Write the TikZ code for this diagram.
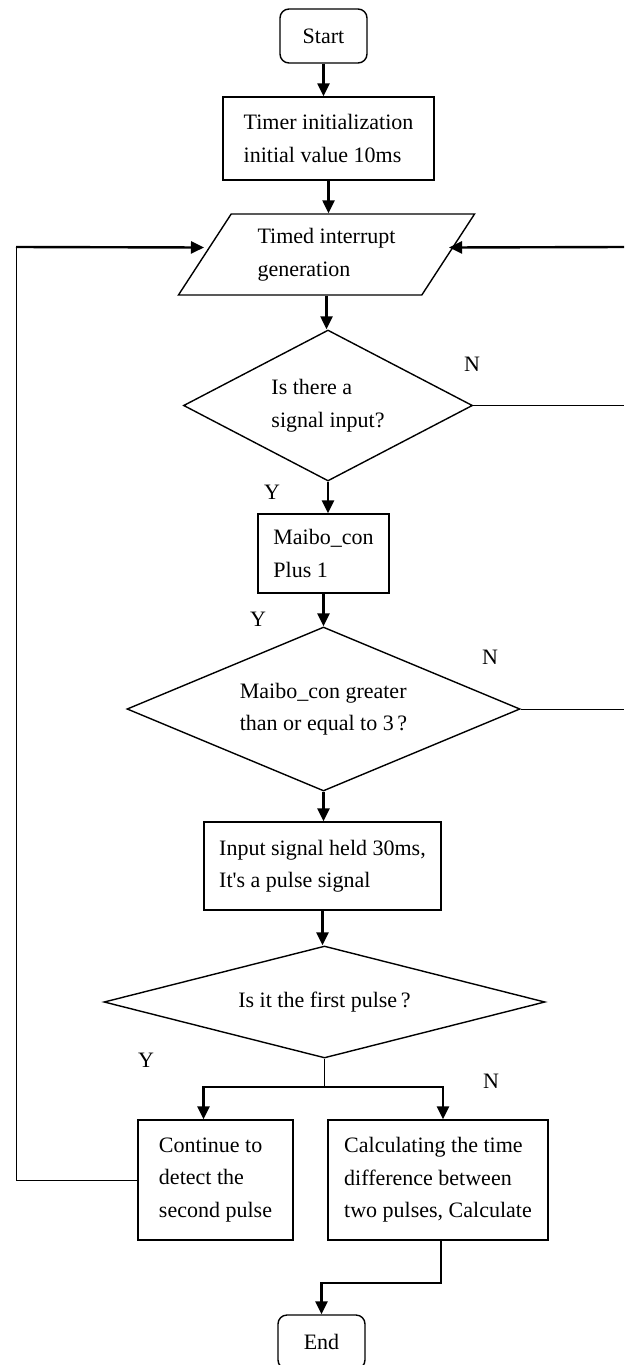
\documentclass[tikz,border=0pt]{standalone}
\usepackage{fontspec}
\setmainfont{Liberation Serif}
\usetikzlibrary{shapes.geometric, arrows.meta, positioning}

\begin{document}
\begin{tikzpicture}[
    x=1pt, y=-1pt,
    every node/.style={font=\fontsize{22}{32.5}\selectfont},
    box/.style={rectangle, draw, line width=1.4pt, align=left, inner sep=0pt},
    terminal/.style={box, rounded corners=9pt, minimum width=87pt, minimum height=54pt},
    decision/.style={diamond, draw, line width=1.4pt, align=left, inner sep=0pt},
    iobox/.style={trapezium, draw, line width=1.4pt, align=left, inner sep=0pt,
        trapezium left angle=54, trapezium right angle=126, trapezium stretches=true},
    arr/.style={line width=2.4pt, -{Triangle[length=13pt, width=12pt]}},
    thinline/.style={line width=1pt}
]
    \path[fill=white, use as bounding box] (0,0) rectangle (624,1365);

    % main column
    \node[terminal] (start) at (323.5,36) {Start};
    \node[box, minimum width=211pt, minimum height=83pt] (init) at (328.5,138.5)
        {Timer initialization\\initial value 10ms};
    \node[iobox, minimum width=297pt, minimum height=81pt] (tim) at (326.5,254.5)
        {Timed interrupt\\generation};
    \node[decision, minimum width=289pt, minimum height=151pt, shape aspect=1.9] (sig) at (328,405.5)
        {Is there a\\signal input?};
    \node[box, minimum width=131pt, minimum height=79pt] (cnt) at (323.5,553.5)
        {Maibo\_con\\Plus 1};
    \node[decision, minimum width=393pt, minimum height=164pt, shape aspect=2.4] (ge) at (323.5,709)
        {Maibo\_con greater\\than or equal to 3\,?};
    \node[box, minimum width=237pt, minimum height=88pt] (held) at (322.5,866)
        {Input signal held 30ms,\\It\textquotesingle s a pulse signal};
    \node[decision, minimum width=441pt, minimum height=112pt, shape aspect=3.9] (first) at (324.5,1002)
        {Is it the first pulse\,?};
    \node[box, minimum width=155pt, minimum height=120pt] (cont) at (215.5,1180)
        {Continue to\\detect the\\second pulse};
    \node[box, minimum width=220pt, minimum height=120pt] (calc) at (438,1180)
        {Calculating the time\\difference between\\two pulses, Calculate};
    \node[terminal] (end) at (321.5,1342) {End};

    % Y / N labels
    \node (n1) at (472,364) {N};
    \node (y1) at (272,492) {Y};
    \node (y2) at (258,619) {Y};
    \node (n2) at (490,657) {N};
    \node (y3) at (146,1060) {Y};
    \node (n3) at (491,1081) {N};

    % loop ends
    \coordinate (lc) at (16,247);
    \coordinate (rc) at (624,247);

    \draw[arr] (start.south) -- (start.south |- init.north);
    \draw[arr] (init.south) -- (init.south |- tim.north);
    \draw[arr] (tim.south) -- (tim.south |- sig.north);
    \draw[arr] (sig.south) -- (sig.south |- cnt.north);
    \draw[arr] (cnt.south) -- (cnt.south |- ge.north);
    \draw[arr] (ge.south) -- (ge.south |- held.north);
    \draw[arr] (held.south) -- (held.south |- first.north);

    \draw[line width=1.2pt] (first.south) -- ++(0,28) coordinate (split);
    \draw[arr] (split) -| ([xshift=-12pt]cont.north);
    \draw[arr] (split) -| ([xshift=5pt]calc.north);
    \draw[arr] ([xshift=3pt]calc.south) -- ++(0,42) -| (end.north);

    % back to the interrupt
    \draw[thinline] (cont.west) -- (cont.west -| lc) -- (lc);
    \draw[arr] (lc) -- ([yshift=7pt]tim.west);
    \draw[arr] (rc) -- ([yshift=7pt]tim.east);
    \draw[thinline] (sig.east) -- (sig.east -| rc);
    \draw[thinline] (ge.east) -- (ge.east -| rc);
\end{tikzpicture}
\end{document}
